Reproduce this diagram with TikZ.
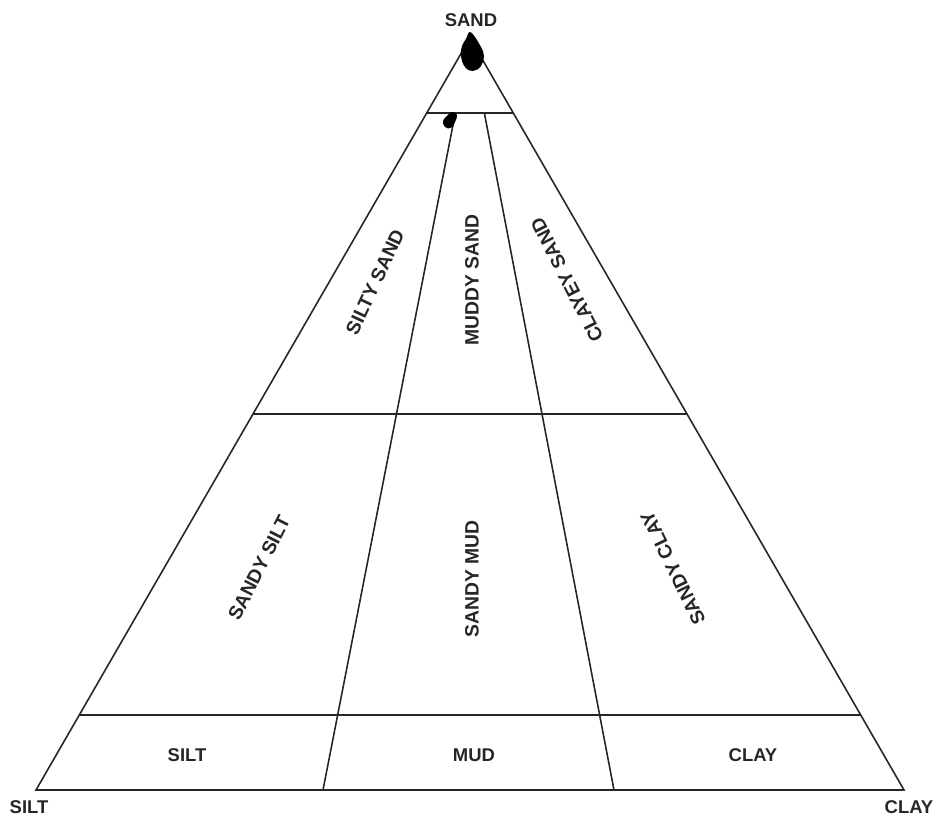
\documentclass[tikz,border=0pt]{standalone}
\usepackage{fontspec}
\setmainfont{Liberation Sans}
\usetikzlibrary{calc}
\begin{document}
\begin{tikzpicture}[x=0.02cm,y=-0.02cm,
  edge/.style={line width=0.9pt,black!85},
  lab/.style={font=\fontsize{10.5}{12}\selectfont\bfseries,text=black!85,inner sep=0pt},
  ilab/.style={font=\fontsize{11}{13}\selectfont\bfseries,text=black!85,inner sep=0pt}]
\useasboundingbox (0,0) rectangle (940,821);
\coordinate (A) at (470,38);
\coordinate (L) at (36,790);
\coordinate (R) at (904,790);
\coordinate (B1) at (323,790);
\coordinate (B2) at (614,790);
% triangle
\draw[edge,line join=miter] (A) -- (L) -- (R) -- cycle;
% horizontal lines
\draw[edge] ($(A)!0.1!(L)$) -- ($(A)!0.1!(R)$);
\draw[edge] ($(A)!0.5!(L)$) -- ($(A)!0.5!(R)$);
\draw[edge] ($(A)!0.9!(L)$) -- ($(A)!0.9!(R)$);
% internal lines
\draw[edge] ($(A)!0.1!(B1)$) -- (B1);
\draw[edge] ($(A)!0.1!(B2)$) -- (B2);
% data blobs
\fill[black] plot[smooth cycle,tension=0.7] coordinates {(470,32) (477,40) (481,47) (484,56) (481,66) (473,71) (465,67) (461,56) (462,46) (466,39)};
\fill[black] plot[smooth cycle,tension=0.7] coordinates {(452,112) (457,115) (455,122) (451,128) (445,127) (443,121) (447,116)};
% corner labels
\node[lab] (sand) at (471,20) {SAND};
\node[lab] (silt) at (29,807) {SILT};
\node[lab] (clay) at (909,807) {CLAY};
% region labels
\node[ilab,rotate=65] (siltysand) at (375,282) {SILTY SAND};
\node[ilab,rotate=90] (muddysand) at (472,280) {MUDDY SAND};
\node[ilab,rotate=117] (clayeysand) at (567,280) {CLAYEY SAND};
\node[ilab,rotate=63] (sandysilt) at (259,568) {SANDY SILT};
\node[ilab,rotate=90] (sandymud) at (472,579) {SANDY MUD};
\node[ilab,rotate=116] (sandyclay) at (673,568) {SANDY CLAY};
\node[lab] (siltb) at (187,755) {SILT};
\node[lab] (mud) at (474,755) {MUD};
\node[lab] (clayb) at (753,755) {CLAY};
\end{tikzpicture}
\end{document}
